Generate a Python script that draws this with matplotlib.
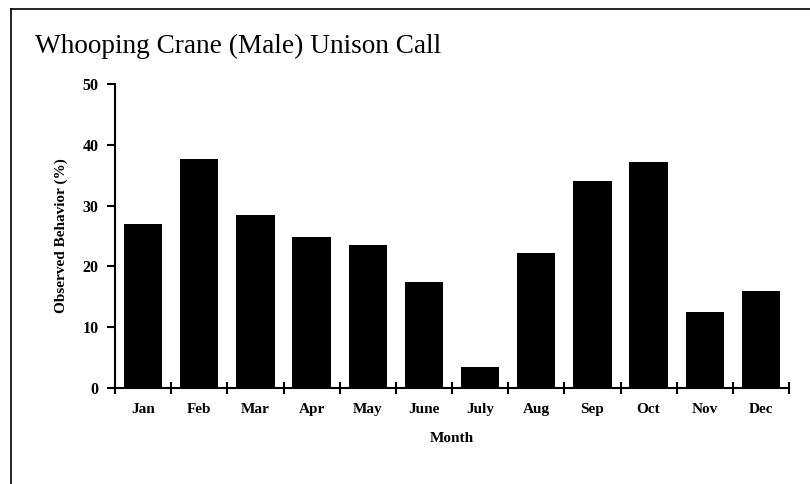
import matplotlib
matplotlib.use("Agg")
import matplotlib.pyplot as plt
import numpy as np
from matplotlib.lines import Line2D

months = ["Jan", "Feb", "Mar", "Apr", "May", "June",
          "July", "Aug", "Sep", "Oct", "Nov", "Dec"]
unison_pct = [26.9, 37.6, 28.4, 24.8, 23.6, 17.4, 3.4, 22.2, 34.1, 37.1, 12.5, 15.9]
y_ticks = [0, 10, 20, 30, 40, 50]

serif = ["Liberation Serif", "DejaVu Serif"]

fig = plt.figure(figsize=(8.1, 4.84), dpi=100)
ax = fig.add_axes([115 / 810, 1 - 388 / 484, (789 - 115) / 810, (388 - 84) / 484])

x = np.arange(len(months))
ax.bar(x, unison_pct, width=0.68, color="black")

ax.set_xlim(-0.5, len(months) - 0.5)
ax.set_ylim(0, 50)

# month names centred under bars, tick marks on the category boundaries
ax.set_xticks(x)
ax.set_xticklabels(months, fontfamily=serif, fontweight="bold", fontsize=11)
ax.tick_params(axis="x", which="major", length=0, pad=11)
ax.set_xticks(np.arange(-0.5, len(months)), minor=True)
ax.tick_params(axis="x", which="minor", direction="inout", length=9, width=1.5)

ax.set_yticks(y_ticks)
ax.set_yticklabels([str(v) for v in y_ticks], fontfamily=serif,
                   fontweight="bold", fontsize=11.5)
ax.tick_params(axis="y", direction="out", length=6, width=1.5, pad=6)

for side in ["top", "right"]:
    ax.spines[side].set_visible(False)
for side in ["left", "bottom"]:
    ax.spines[side].set_linewidth(1.5)

ax.set_xlabel("Month", fontfamily=serif, fontweight="bold", fontsize=11, labelpad=11)
ax.set_ylabel("Observed Behavior (%)", fontfamily=serif, fontweight="bold",
              fontsize=11, labelpad=10)

fig.text(35 / 810, 1 - 53 / 484, "Whooping Crane (Male) Unison Call",
         fontfamily=serif, fontsize=19.6, ha="left", va="baseline")

# frame lines along the left and top of the figure
fig.add_artist(Line2D([10.5 / 810, 10.5 / 810], [0, 1 - 9 / 484],
                      transform=fig.transFigure, color="black", lw=1.2))
fig.add_artist(Line2D([10.5 / 810, 1], [1 - 9 / 484, 1 - 9 / 484],
                      transform=fig.transFigure, color="black", lw=1.2))

fig.savefig("out.png", dpi=100)
